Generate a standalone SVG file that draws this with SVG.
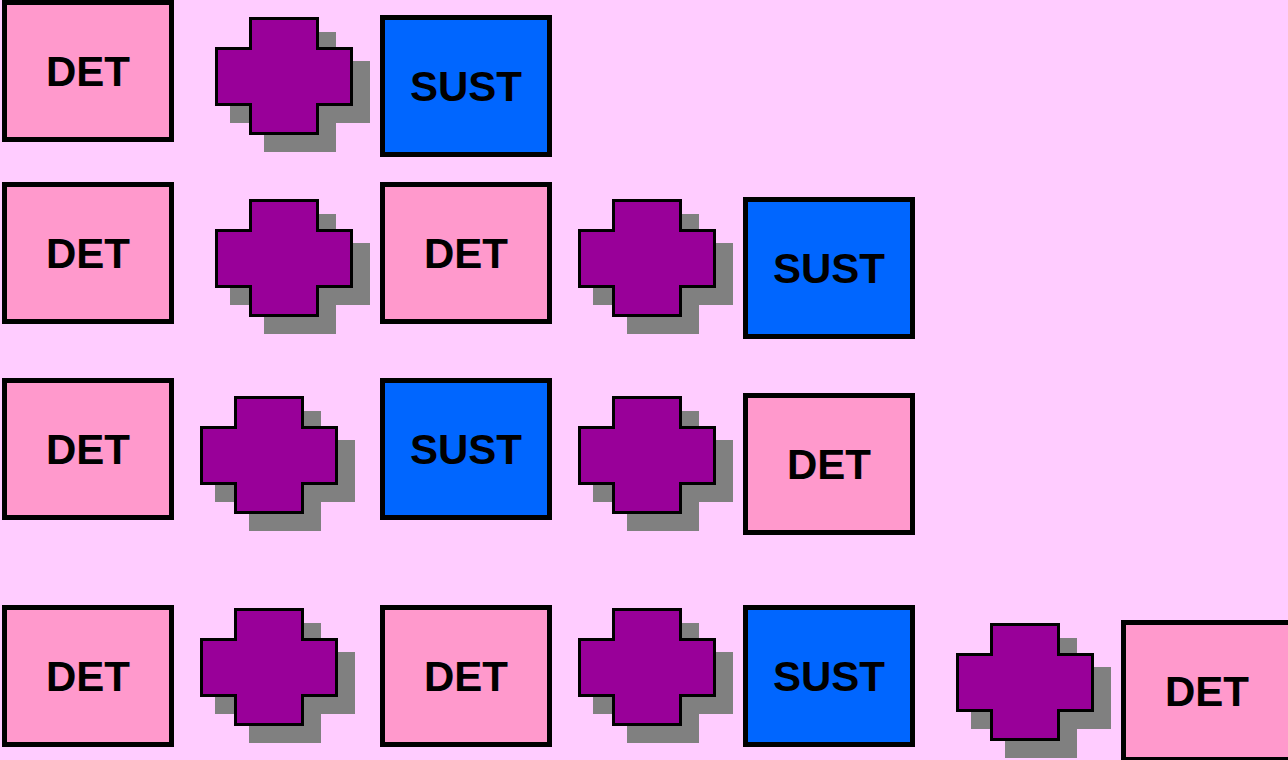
<svg xmlns="http://www.w3.org/2000/svg" xmlns:xlink="http://www.w3.org/1999/xlink" width="1288" height="760" viewBox="0 0 1288 760">
<style>
.det{fill:#FF99CC;stroke:#000;stroke-width:5}
.sust{fill:#0066FF;stroke:#000;stroke-width:5}
.lbl{font-family:"Liberation Sans",Arial,sans-serif;font-weight:bold;font-size:42px;fill:#000;text-anchor:middle}
.pl{fill:#990099;stroke:#000;stroke-width:3;stroke-linejoin:miter}
.sh{fill:#808080}
</style>
<defs>
<g id="plus">
<path class="sh" d="M49,15 H121 V44 H155 V106 H121 V135 H49 V106 H15 V44 H49 Z"/>
<path class="pl" d="M35.5,1.5 H102.5 V31.5 H136.5 V87.5 H102.5 V116.5 H35.5 V87.5 H1.5 V31.5 H35.5 Z"/>
</g>
</defs>
<rect width="1288" height="760" fill="#FFCCFF"/>
<g id="connectors"/>
<g id="n1"><rect class="det" x="4.5" y="2.5" width="167" height="137"/><text class="lbl" x="88" y="86">DET</text></g>
<g id="p1"><use xlink:href="#plus" x="215" y="17"/></g>
<g id="n2"><rect class="sust" x="382.5" y="17.5" width="167" height="137"/><text class="lbl" x="466" y="101">SUST</text></g>

<g id="n3"><rect class="det" x="4.5" y="184.5" width="167" height="137"/><text class="lbl" x="88" y="268">DET</text></g>
<g id="p2"><use xlink:href="#plus" x="215" y="199"/></g>
<g id="n4"><rect class="det" x="382.5" y="184.5" width="167" height="137"/><text class="lbl" x="466" y="268">DET</text></g>
<g id="p3"><use xlink:href="#plus" x="578" y="199"/></g>
<g id="n5"><rect class="sust" x="745.5" y="199.5" width="167" height="137"/><text class="lbl" x="829" y="283">SUST</text></g>

<g id="n6"><rect class="det" x="4.5" y="380.5" width="167" height="137"/><text class="lbl" x="88" y="464">DET</text></g>
<g id="p4"><use xlink:href="#plus" x="200" y="396"/></g>
<g id="n7"><rect class="sust" x="382.5" y="380.5" width="167" height="137"/><text class="lbl" x="466" y="464">SUST</text></g>
<g id="p5"><use xlink:href="#plus" x="578" y="396"/></g>
<g id="n8"><rect class="det" x="745.5" y="395.5" width="167" height="137"/><text class="lbl" x="829" y="479">DET</text></g>

<g id="n9"><rect class="det" x="4.5" y="607.5" width="167" height="137"/><text class="lbl" x="88" y="691">DET</text></g>
<g id="p6"><use xlink:href="#plus" x="200" y="608"/></g>
<g id="n10"><rect class="det" x="382.5" y="607.5" width="167" height="137"/><text class="lbl" x="466" y="691">DET</text></g>
<g id="p7"><use xlink:href="#plus" x="578" y="608"/></g>
<g id="n11"><rect class="sust" x="745.5" y="607.5" width="167" height="137"/><text class="lbl" x="829" y="691">SUST</text></g>
<g id="p8"><use xlink:href="#plus" x="956" y="623"/></g>
<g id="n12"><rect class="det" x="1123.5" y="622.5" width="167" height="137"/><text class="lbl" x="1207" y="706">DET</text></g>
</svg>
